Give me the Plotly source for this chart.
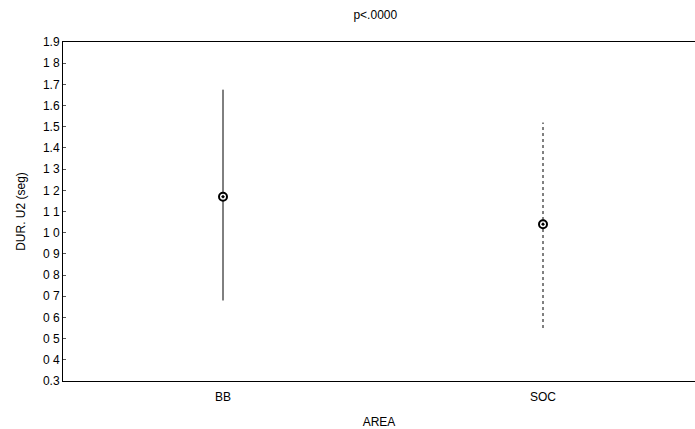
import plotly.graph_objects as go

categories = ["BB", "SOC"]
means = [1.17, 1.04]
lower = [0.68, 0.55]
upper = [1.675, 1.52]
tick_vals = [0.3, 0.4, 0.5, 0.6, 0.7, 0.8, 0.9, 1.0, 1.1, 1.2, 1.3, 1.4, 1.5, 1.6, 1.7, 1.8, 1.9]
tick_text = ["0.3", "0 4", "0 5", "0 6", "0 7", "0 8", "0 9", "1 0", "1 1", "1 2", "1 3",
             "1.4", "1.5", "1.6", "1.7", "1 8", "1.9"]
dash_styles = ["solid", "dot"]

fig = go.Figure()
for c, lo, hi, d in zip(categories, lower, upper, dash_styles):
    fig.add_trace(go.Scatter(x=[c, c], y=[lo, hi], mode="lines",
                             line=dict(color="black", width=1, dash=d),
                             showlegend=False, hoverinfo="skip"))
fig.add_trace(go.Scatter(x=categories, y=means, mode="markers",
                         marker=dict(symbol="circle-dot", size=8, color="white",
                                     line=dict(color="black", width=2)),
                         showlegend=False))

fig.update_layout(
    width=695, height=429,
    margin=dict(l=63, r=0, t=42, b=46),
    paper_bgcolor="white", plot_bgcolor="white",
    font=dict(family="Liberation Sans, Arial, sans-serif", size=12, color="black"),
    title=dict(text="p<.0000", x=0.54, xanchor="center", y=0.965, yanchor="middle",
               font=dict(size=12)),
    xaxis=dict(type="category", range=[-0.5, 1.475], showgrid=False, zeroline=False,
               showline=True, linecolor="black", linewidth=1, mirror=True,
               ticks="", tickfont=dict(size=12), ticklabelstandoff=5,
               title=dict(text="AREA", standoff=16, font=dict(size=12))),
    yaxis=dict(range=[0.3, 1.9], tickvals=tick_vals, ticktext=tick_text,
               showgrid=False, zeroline=False, showline=True, linecolor="black",
               linewidth=1, ticks="inside", ticklen=3, tickcolor="#555",
               tickfont=dict(size=12),
               title=dict(text="DUR. U2 (seg)", standoff=14, font=dict(size=12))),
)
fig.write_html("out.html")
